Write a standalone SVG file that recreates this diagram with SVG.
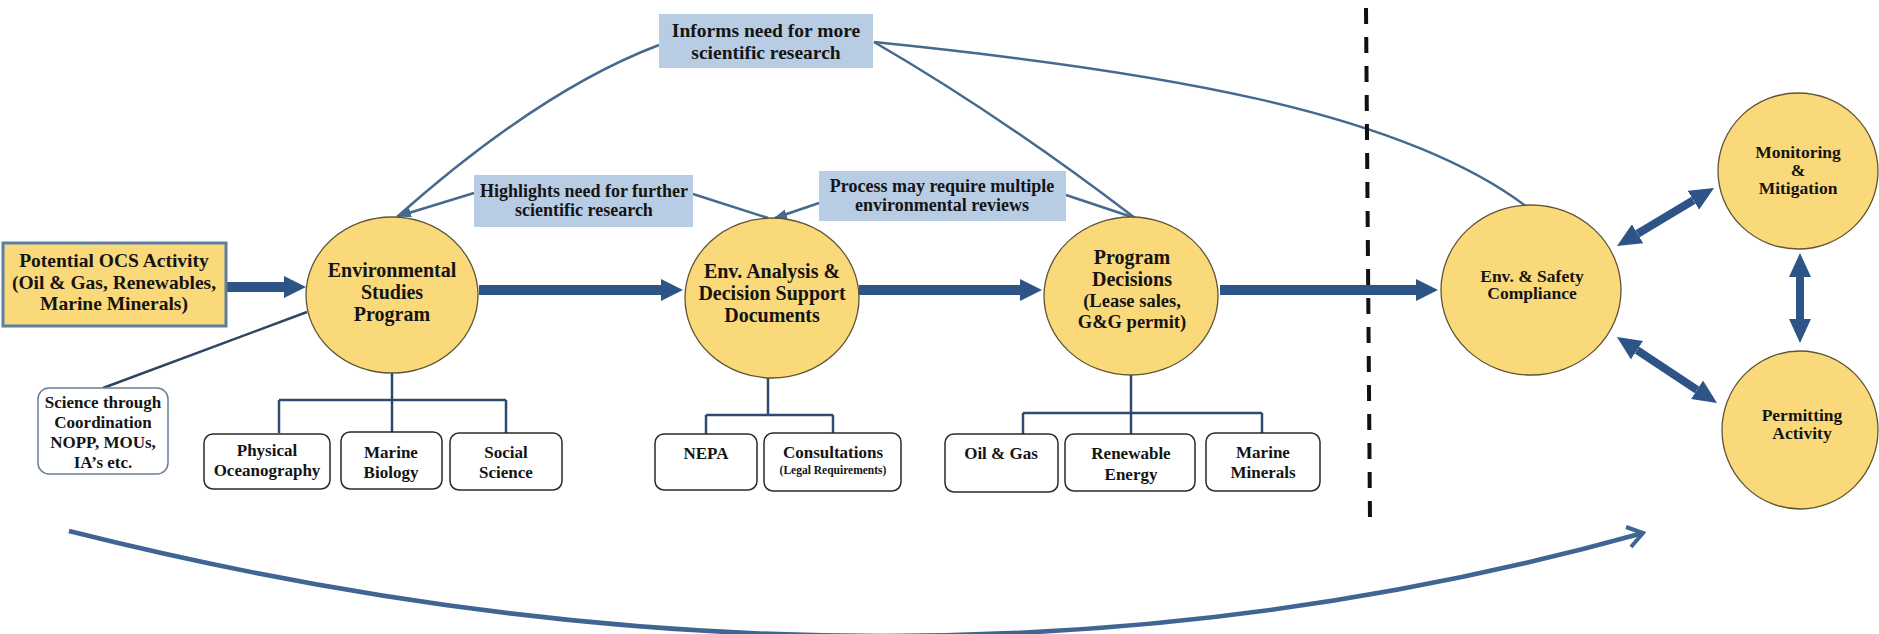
<svg xmlns="http://www.w3.org/2000/svg" width="1879" height="634" viewBox="0 0 1879 634">
<defs>
<style>
text{font-weight:bold;fill:#141414;text-anchor:middle}
.circ{fill:#fad97b;stroke:#5e5535;stroke-width:1.3}
.lbl{fill:#b8cce4}
.sub{fill:#ffffff;stroke:#2a2a2a;stroke-width:1.5}
.thin{fill:none;stroke:#45698f;stroke-width:2.5}
.tree{fill:none;stroke:#2d4b6e;stroke-width:2.5}
.main{stroke:#2c5486;stroke-width:10;marker-end:url(#bigHead)}
.dbl{stroke:#2c5486;stroke-width:8;marker-start:url(#dHead);marker-end:url(#dHead)}
.t20{font-size:20px}
.t19{font-size:19.5px}
.t18{font-size:18px}
.t17{font-size:17px}
.t175{font-size:17.5px}
</style>
<marker id="bigHead" markerUnits="userSpaceOnUse" markerWidth="22" markerHeight="22" viewBox="0 0 22 22" refX="0" refY="11" orient="auto">
<path d="M0,0 L22,11 L0,22 Z" fill="#2c5486"/>
</marker>
<marker id="dHead" markerUnits="userSpaceOnUse" markerWidth="24" markerHeight="22" viewBox="0 0 24 22" refX="0" refY="11" orient="auto-start-reverse">
<path d="M0,0 L24,11 L0,22 Z" fill="#2c5486"/>
</marker>
<marker id="smallHead" markerUnits="userSpaceOnUse" markerWidth="14" markerHeight="10" viewBox="0 0 14 10" refX="12" refY="5" orient="auto">
<path d="M0,0 L14,5 L0,10 Z" fill="#45698f"/>
</marker>
</defs>
<rect width="1879" height="634" fill="#ffffff"/>

<g id="connectors">
<path class="thin" d="M659,45 Q540,90 397,217"/>
<path class="thin" d="M474,193 L399,216" marker-end="url(#smallHead)"/>
<path class="thin" d="M693,194 L768,218"/>
<path class="thin" d="M819,203 L775,218" marker-end="url(#smallHead)"/>
<path class="thin" d="M1066,195 L1135,218"/>
<path class="thin" d="M874,42 Q1000,115 1135,218"/>
<path class="thin" d="M874,42 C1150,70 1400,110 1527,207"/>
<path d="M103,388 L307,312" fill="none" stroke="#2b4562" stroke-width="2.5"/>
<line class="main" x1="227" y1="287" x2="284" y2="287"/>
<line class="main" x1="479" y1="290" x2="661" y2="290"/>
<line class="main" x1="859" y1="290" x2="1020" y2="290"/>
<line class="main" x1="1220" y1="290" x2="1416" y2="290"/>
<line class="dbl" x1="1637.6" y1="233.7" x2="1693.4" y2="200.3"/>
<line class="dbl" x1="1800" y1="277" x2="1800" y2="319"/>
<line class="dbl" x1="1637" y1="350.2" x2="1697" y2="389.8"/>
<path class="tree" d="M392,373 V400 M279,400 H506 M279,400 V433 M392,400 V432 M506,400 V433"/>
<path class="tree" d="M768,378 V415 M706,415 H833 M706,415 V434 M833,415 V433"/>
<path class="tree" d="M1131,375 V413 M1023,413 H1262 M1023,413 V434 M1131,413 V434 M1262,413 V433"/>
<line x1="1366" y1="8" x2="1370" y2="520" stroke="#111111" stroke-width="4" stroke-dasharray="16 13"/>
<path d="M69,531 Q900,740 1643,533" fill="none" stroke="#3f6593" stroke-width="4.5"/>
<path d="M1626,527 L1643,533 L1631,547" fill="none" stroke="#3f6593" stroke-width="4" stroke-linejoin="miter"/>
</g>

<g font-family="'Liberation Serif', 'Times New Roman', 'DejaVu Serif', serif">
<g id="informs">
<rect class="lbl" x="659" y="14" width="214" height="54"/>
<text class="t19" x="766" y="37">Informs need for more</text>
<text class="t19" x="766" y="59">scientific research</text>
</g>
<g id="highlights">
<rect class="lbl" x="474" y="175" width="219" height="52"/>
<text class="t18" x="584" y="197">Highlights need for further</text>
<text class="t18" x="584" y="216">scientific research</text>
</g>
<g id="process">
<rect class="lbl" x="819" y="171" width="247" height="50"/>
<text class="t18" x="942" y="192">Process may require multiple</text>
<text class="t18" x="942" y="211">environmental reviews</text>
</g>

<g id="ocs">
<rect x="3" y="243" width="223" height="83" fill="#fad97b" stroke="#5b7fa3" stroke-width="3"/>
<text class="t19" x="114" y="267">Potential OCS Activity</text>
<text class="t19" x="114" y="289">(Oil &amp; Gas, Renewables,</text>
<text class="t19" x="114" y="310">Marine Minerals)</text>
</g>

<g id="esp">
<ellipse class="circ" cx="392" cy="295" rx="86" ry="78"/>
<text class="t20" x="392" y="277">Environmental</text>
<text class="t20" x="392" y="299">Studies</text>
<text class="t20" x="392" y="321">Program</text>
</g>
<g id="ea">
<ellipse class="circ" cx="772" cy="298" rx="87" ry="80"/>
<text class="t20" x="772" y="278">Env. Analysis &amp;</text>
<text class="t20" x="772" y="300">Decision Support</text>
<text class="t20" x="772" y="322">Documents</text>
</g>
<g id="pd">
<ellipse class="circ" cx="1131" cy="296" rx="87" ry="79"/>
<text class="t20" x="1132" y="264">Program</text>
<text class="t20" x="1132" y="286">Decisions</text>
<text x="1132" y="307" font-size="18.5">(Lease sales,</text>
<text x="1132" y="328" font-size="18.5">G&amp;G permit)</text>
</g>
<g id="es">
<ellipse class="circ" cx="1531" cy="290" rx="90" ry="85"/>
<text class="t175" x="1532" y="282">Env. &amp; Safety</text>
<text class="t175" x="1532" y="299">Compliance</text>
</g>
<g id="monitoring">
<ellipse class="circ" cx="1798" cy="171" rx="80" ry="78"/>
<text class="t175" x="1798" y="158">Monitoring</text>
<text class="t175" x="1798" y="176">&amp;</text>
<text class="t175" x="1798" y="194">Mitigation</text>
</g>
<g id="permitting">
<ellipse class="circ" cx="1800" cy="430" rx="78" ry="79"/>
<text class="t175" x="1802" y="421">Permitting</text>
<text class="t175" x="1802" y="439">Activity</text>
</g>

<g id="science">
<rect x="38" y="388" width="130" height="86" rx="11" fill="#ffffff" stroke="#6a7f96" stroke-width="1.5"/>
<text class="t17" x="103" y="408">Science through</text>
<text class="t17" x="103" y="428">Coordination</text>
<text class="t17" x="103" y="448">NOPP, MOUs,</text>
<text class="t17" x="103" y="468">IA’s etc.</text>
</g>
<g id="physical">
<rect class="sub" x="204" y="434" width="126" height="55" rx="9"/>
<text class="t17" x="267" y="456">Physical</text>
<text class="t17" x="267" y="476">Oceanography</text>
</g>
<g id="marinebio">
<rect class="sub" x="341" y="432" width="101" height="57" rx="9"/>
<text class="t17" x="391" y="458">Marine</text>
<text class="t17" x="391" y="478">Biology</text>
</g>
<g id="social">
<rect class="sub" x="450" y="433" width="112" height="57" rx="9"/>
<text class="t17" x="506" y="458">Social</text>
<text class="t17" x="506" y="478">Science</text>
</g>
<g id="nepa">
<rect class="sub" x="655" y="434" width="102" height="56" rx="9"/>
<text class="t17" x="706" y="459">NEPA</text>
</g>
<g id="consult">
<rect class="sub" x="764" y="433" width="137" height="58" rx="9"/>
<text class="t17" x="833" y="458">Consultations</text>
<text x="833" y="474" font-size="11.5">(Legal Requirements)</text>
</g>
<g id="oilgas">
<rect class="sub" x="945" y="434" width="113" height="58" rx="9"/>
<text class="t17" x="1001" y="459">Oil &amp; Gas</text>
</g>
<g id="renewable">
<rect class="sub" x="1065" y="434" width="130" height="57" rx="9"/>
<text class="t17" x="1131" y="459">Renewable</text>
<text class="t17" x="1131" y="480">Energy</text>
</g>
<g id="minerals">
<rect class="sub" x="1206" y="433" width="114" height="58" rx="9"/>
<text class="t17" x="1263" y="458">Marine</text>
<text class="t17" x="1263" y="478">Minerals</text>
</g>
</g>
</svg>
